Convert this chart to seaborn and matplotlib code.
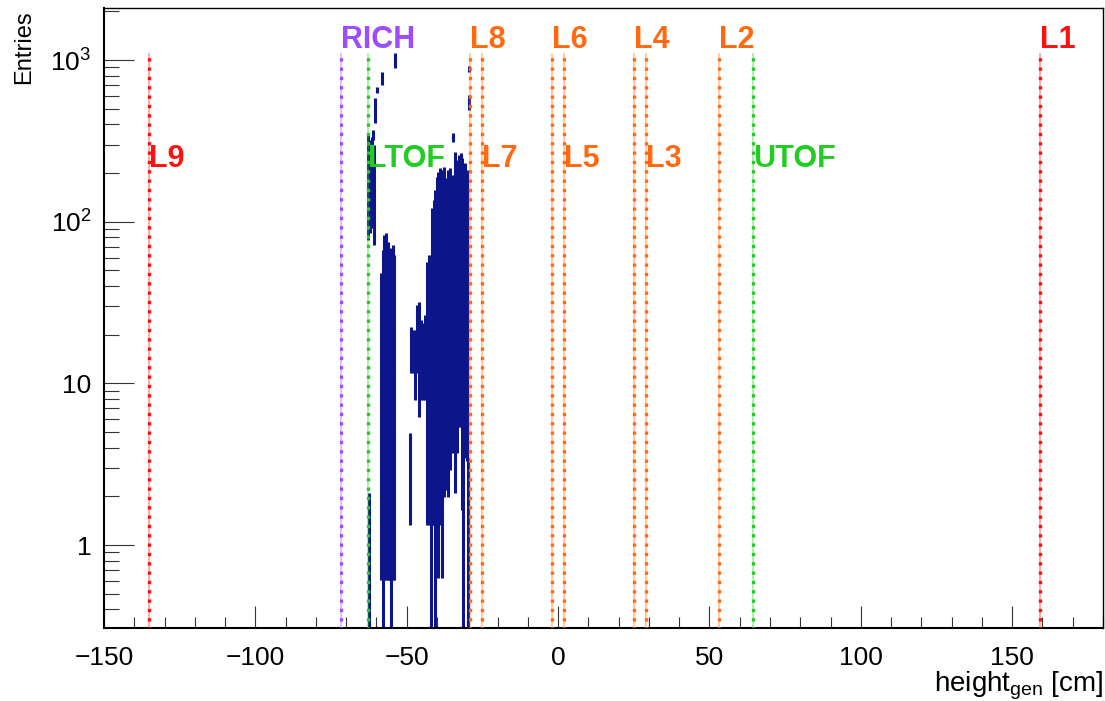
import numpy as np
import pandas as pd
import matplotlib
matplotlib.use("Agg")
import matplotlib.pyplot as plt
import seaborn as sns
from matplotlib.ticker import FixedLocator, FixedFormatter, NullFormatter, MultipleLocator, LogLocator

# ---------------- histogram bins (height_gen [cm]) and error-bar extents (Entries) ----------------
hist_x = [-54.0, -58.2, -59.9, -60.6, -61.2,
          -62.9, -62.4, -62.1, -61.6, -60.9,
          -58.6, -57.9, -57.6, -56.9, -56.3, -55.9, -55.6, -55.1, -54.6, -54.1,
          -49.0, -48.5, -48.0, -47.4, -46.7, -46.0, -45.4, -44.7, -44.1,
          -43.4, -42.7, -42.1, -41.6, -41.1, -40.6, -40.1, -39.6, -39.1, -38.4,
          -37.8, -37.1, -36.5, -35.8, -35.1, -34.7, -34.2, -33.5, -32.8, -32.2,
          -31.7, -31.3, -30.7, -30.2, -29.6, -29.4, -29.3]
hist_lo = [892, 700, 625, 408, 320,
           77, 0, 85, 91.5, 71.8,
           0.61, 0, 0.61, 0.61, 0.61, 0.61, 0.61, 0, 0.61, 0.61,
           1.33, 11.6, 11.6, 7.9, 11.6, 6.2, 7.9, 7.9, 7.9,
           1.33, 1.33, 0, 1.33, 1.33, 0, 1.33, 0.63, 1.33, 0.63,
           1.98, 2.19, 1.98, 2.91, 3.72, 311, 2.1, 3.72, 5.37, 5.37,
           1.65, 0, 3.46, 3.3, 0, 491, 843]
hist_hi = [1105, 843, 681, 582, 369,
           344, 2.1, 320, 334, 298,
           48.2, 66.8, 82.8, 85.2, 74.8, 59.7, 56.4, 68.7, 71.8, 62.2,
           4.93, 22.3, 21.3, 21.3, 30.5, 31.8, 24.6, 23.6, 26.5,
           56.4, 62.2, 58.0, 122, 136, 157, 189, 203, 215, 209,
           218, 186, 209, 215, 194, 354, 270, 241, 258, 266,
           248, 224, 231, 209, 3.46, 608, 918]

# ---------------- detector planes ----------------
det_names = ["L1", "L2", "L3", "L4", "L5", "L6", "L7", "L8", "L9", "UTOF", "LTOF", "RICH"]
det_pos = [159.3, 53.1, 29.2, 25.1, 1.9, -2.0, -25.2, -29.1, -135.3, 64.5, -62.7, -71.8]
det_row = ["up", "up", "low", "up", "low", "up", "low", "up", "low", "low", "low", "up"]
det_kind = ["outer", "inner", "inner", "inner", "inner", "inner", "inner", "inner", "outer",
            "tof", "tof", "rich"]

x_ticks = [-150, -100, -50, 0, 50, 100, 150]
y_ticks = [1, 10, 100, 1000]
y_ticklabels = ["1", "10", r"$10^{2}$", r"$10^{3}$"]

NAVY = "#0c168a"
kind_colors = {"outer": "#ff1010", "inner": "#ff6a10", "tof": "#22cc22", "rich": "#9d4cff"}

YMIN, YMAX = 0.307, 2100
LINE_TOP = 1100
LABEL_Y = {"up": 1190, "low": 218}

sns.set_theme(style="ticks")
plt.rcParams['font.family'] = ['Liberation Sans', 'DejaVu Sans']
plt.rcParams['mathtext.fontset'] = 'custom'
plt.rcParams['mathtext.rm'] = 'Liberation Sans'
plt.rcParams['mathtext.it'] = 'Liberation Sans:italic'
plt.rcParams['mathtext.bf'] = 'Liberation Sans:bold'
plt.rcParams['axes.unicode_minus'] = True
for k in ["text.color", "axes.labelcolor", "xtick.color", "ytick.color", "axes.edgecolor"]:
    plt.rcParams[k] = "black"

fig = plt.figure(figsize=(11.05, 7.01), dpi=100)
fig.patch.set_facecolor("white")
ax = fig.add_axes([104 / 1105, 73 / 701, 999 / 1105, 620 / 701])
ax.set_facecolor("white")
ax.set_yscale("log")
ax.set_xlim(-150, 180)
ax.set_ylim(YMIN, YMAX)

# histogram error bars: one vertical segment per bin
rows = []
for i, (x, lo, hi) in enumerate(zip(hist_x, hist_lo, hist_hi)):
    rows.append({"bin": i, "x": x, "y": max(lo, YMIN * 0.5)})
    rows.append({"bin": i, "x": x, "y": hi})
df = pd.DataFrame(rows)
sns.lineplot(data=df, x="x", y="y", units="bin", estimator=None, sort=False,
             color=NAVY, linewidth=2.2, legend=False, ax=ax, solid_capstyle="butt", zorder=2)
ax.set_xlabel("")
ax.set_ylabel("")

# detector lines
cols = [kind_colors[k] for k in det_kind]
ax.vlines(det_pos, YMIN * 0.5, LINE_TOP, colors=cols, linewidth=1.1, alpha=0.45, zorder=3)
ax.vlines(det_pos, YMIN * 0.5, LINE_TOP, colors=cols, linewidth=2.4,
          linestyles=[(0, (1.0, 1.8))], zorder=3)
for name, pos, row, c in zip(det_names, det_pos, det_row, cols):
    ax.text(pos, LABEL_Y[row], name, color=c, fontsize=22, fontweight="bold",
            ha="left", va="baseline", zorder=4)

# axes styling (ROOT-like)
ax.xaxis.set_major_locator(FixedLocator(x_ticks))
ax.xaxis.set_minor_locator(MultipleLocator(10))
ax.yaxis.set_major_locator(FixedLocator(y_ticks))
ax.yaxis.set_major_formatter(FixedFormatter(y_ticklabels))
ax.yaxis.set_minor_locator(LogLocator(base=10, subs=np.arange(2, 10)))
ax.yaxis.set_minor_formatter(NullFormatter())
ax.tick_params(axis="x", which="major", direction="in", length=15.7, width=0.8,
               color="#333333", labelcolor="black", labelsize=19, pad=13, top=False)
ax.tick_params(axis="x", which="minor", direction="in", length=8, width=0.8,
               color="#333333", top=False)
ax.tick_params(axis="y", which="major", direction="in", length=21.6, width=0.8,
               color="#333333", labelcolor="black", labelsize=19, pad=9, right=False)
ax.tick_params(axis="y", which="minor", direction="in", length=10.8, width=0.8,
               color="#333333", right=False)
for s in ["left", "bottom"]:
    ax.spines[s].set_linewidth(1.5)
    ax.spines[s].set_color("black")
for s in ["top", "right"]:
    ax.spines[s].set_linewidth(1.0)
    ax.spines[s].set_color("black")
ax.grid(False)

fig.text(24 / 1105, 1 - 10 / 701, "Entries", rotation=90, ha="center", va="top",
         fontsize=17, color="black")
fig.text(1103 / 1105, 1 - 691 / 701, r"height$_{\mathregular{gen}}$ [cm]", ha="right",
         va="baseline", fontsize=20, color="black")

fig.savefig("out.png", dpi=100, facecolor="white")
